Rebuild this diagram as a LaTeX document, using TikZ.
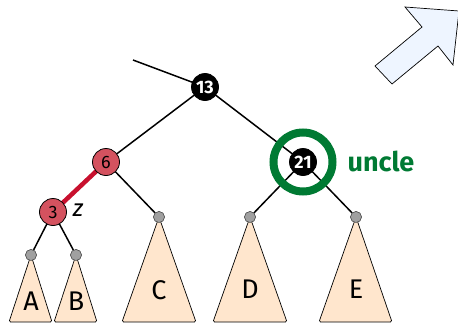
\documentclass[tikz,border=0pt]{standalone}
\usepackage{fontspec}
\setmainfont{Fira Sans}
\setsansfont{Fira Sans}
\definecolor{nodered}{RGB}{212,82,95}
\definecolor{edgered}{RGB}{200,16,46}
\definecolor{unclegreen}{RGB}{0,122,51}
\definecolor{treefill}{RGB}{255,230,205}
\definecolor{leafgray}{RGB}{160,160,160}
\definecolor{arrowfill}{RGB}{238,245,255}
\begin{document}
\begin{tikzpicture}[x=1pt,y=-1pt,
  blacknode/.style={circle,fill=black,draw=black,line width=0.8pt,minimum size=27pt,inner sep=0pt,text=white,font=\fontsize{18}{18}\selectfont\bfseries},
  rednode/.style={circle,fill=nodered,draw=black,line width=0.8pt,minimum size=27pt,inner sep=0pt,text=black,font=\fontsize{18}{18}\selectfont\mdseries},
  leafdot/.style={circle,fill=leafgray,draw=black!70,line width=0.5pt,minimum size=11pt,inner sep=0pt},
  subtree/.style={fill=treefill,draw=black,line width=0.7pt,rounded corners=1.5pt},
  edge/.style={line width=1.5pt,black},
  treelabel/.style={font=\fontsize{27}{27}\selectfont}
]
\useasboundingbox (0,0) rectangle (458,324);

% block arrow
\draw[fill=arrowfill,line width=0.7pt] (405,7) -- (459,11) -- (453,65) -- (438,46) -- (392,84) -- (375,66) -- (422,27) -- cycle;

% leaf positions
\coordinate (top) at (133,60);
\node[leafdot] (la) at (31,255) {};
\node[leafdot] (lb) at (76,255) {};
\node[leafdot] (lc) at (159,217) {};
\node[leafdot] (ld) at (250,217) {};
\node[leafdot] (le) at (356,217) {};

% subtrees
\draw[subtree] (la.center) -- (52,322) -- (9,322) -- cycle;
\draw[subtree] (lb.center) -- (97,322) -- (54,322) -- cycle;
\draw[subtree] (lc.center) -- (196,322) -- (122,322) -- cycle;
\draw[subtree] (ld.center) -- (287,322) -- (213,322) -- cycle;
\draw[subtree] (le.center) -- (392,322) -- (319,322) -- cycle;
\node[leafdot] at (la) {};
\node[leafdot] at (lb) {};
\node[leafdot] at (lc) {};
\node[leafdot] at (ld) {};
\node[leafdot] at (le) {};

\node[treelabel] (ta) at (31,301) {A};
\node[treelabel] (tb) at (76,301) {B};
\node[treelabel] (tc) at (159,290) {C};
\node[treelabel] (td) at (250,289) {D};
\node[treelabel] (te) at (356,289) {E};

% inner nodes positions
\coordinate (p13) at (205,87);
\coordinate (p6) at (106,162);
\coordinate (p3) at (53,212);
\coordinate (p21) at (303,162);

% edges
\draw[edge] (top) -- (p13);
\draw[edge] (p13) -- (p6);
\draw[edge] (p13) -- (p21);
\draw[edge] (p6) -- (lc);
\draw[edge] (p3) -- (la);
\draw[edge] (p3) -- (lb);
\draw[edge] (p21) -- (ld);
\draw[edge] (p21) -- (le);
\draw[line width=4.5pt,edgered] (p6) -- (p3);

% nodes
\node[blacknode] (n13) at (p13) {13};
\node[rednode] (n6) at (p6) {6};
\node[rednode] (n3) at (p3) {3};
\node[blacknode] (n21) at (p21) {21};

% uncle ring
\draw[unclegreen,line width=8pt] (n21.center) circle (29.5pt);
\node[text=unclegreen,font=\fontsize{27}{27}\selectfont\bfseries] (uncle) at (381,161) {uncle};
\node[font=\fontsize{24}{24}\selectfont\itshape] (z) at (78,210) {z};
\end{tikzpicture}
\end{document}
